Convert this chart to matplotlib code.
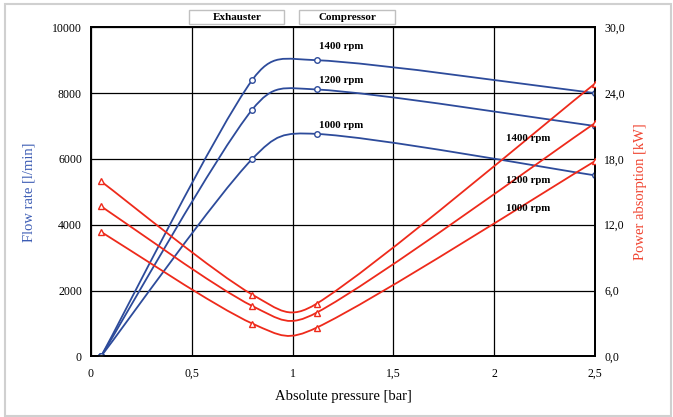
import numpy as np
import matplotlib
matplotlib.use('Agg')
import matplotlib.pyplot as plt
from matplotlib.path import Path
from matplotlib.patches import PathPatch, Rectangle

plt.rcParams['font.family'] = ['Liberation Serif', 'DejaVu Serif']

# data
pressure = [0.05, 0.8, 1.12, 2.5]
flow_1400 = [0, 8400, 9000, 8000]
flow_1200 = [0, 7500, 8110, 7000]
flow_1000 = [0, 6000, 6760, 5500]
power_1400 = [15.95, 5.63, 4.81, 24.87]
power_1200 = [13.68, 4.59, 3.99, 21.27]
power_1000 = [11.35, 2.99, 2.62, 17.8]
rpm_labels = ['1400 rpm', '1200 rpm', '1000 rpm']

x_ticks = [0, 0.5, 1, 1.5, 2, 2.5]
x_ticklabels = ['0', '0,5', '1', '1,5', '2', '2,5']
flow_ticks = [0, 2000, 4000, 6000, 8000, 10000]
power_ticks = [0, 6, 12, 18, 24, 30]

blue = '#2d4b9b'
red = '#ee2a1b'


def smooth_path(ax, xs, ys):
    # excel style smoothed line, computed in display space
    pts = ax.transData.transform(np.column_stack([xs, ys]))
    n = len(pts)
    verts = [pts[0]]
    codes = [Path.MOVETO]
    for i in range(n - 1):
        p0 = pts[max(i - 1, 0)]
        p1 = pts[i]
        p2 = pts[i + 1]
        p3 = pts[min(i + 2, n - 1)]
        d12 = np.hypot(*(p2 - p1))
        d02 = np.hypot(*(p2 - p0))
        d13 = np.hypot(*(p3 - p1))
        f0 = 1 / 6 if d02 / 6 < d12 / 2 else d12 / 2 / d02
        f3 = 1 / 6 if d13 / 6 < d12 / 2 else d12 / 2 / d13
        a = p1 + (p2 - p0) * f0
        b = p2 - (p3 - p1) * f3
        verts += [a, b, p2]
        codes += [Path.CURVE4] * 3
    verts = ax.transData.inverted().transform(np.array(verts))
    return Path(verts, codes)


fig = plt.figure(figsize=(6.73, 4.17), dpi=100)
fig.subplots_adjust(left=0.1352, right=0.8841, top=0.9345, bottom=0.1455)
ax = fig.add_subplot(111)
ax2 = ax.twinx()

ax.set_xlim(0, 2.5)
ax.set_ylim(0, 10000)
ax2.set_ylim(0, 30)

ax.set_xticks(x_ticks)
ax.set_xticklabels(x_ticklabels)
ax.set_yticks(flow_ticks)
ax.set_yticklabels([str(v) for v in flow_ticks])
ax2.set_yticks(power_ticks)
ax2.set_yticklabels([('%.1f' % v).replace('.', ',') for v in power_ticks])

ax.grid(True, color='black', lw=0.9)
ax.set_axisbelow(True)
ax.tick_params(axis='both', length=0, labelsize=8.5, pad=6.5)
ax.tick_params(axis='x', pad=8.5)
ax2.tick_params(axis='y', length=0, labelsize=8.5, pad=6.5)
for a in (ax, ax2):
    for s in a.spines.values():
        s.set_color('black')
        s.set_linewidth(1.3)

ax.set_xlabel('Absolute pressure [bar]', fontsize=10.5, labelpad=7)
ax.set_ylabel('Flow rate [l/min]', fontsize=10.5, color='#3c5cb4', labelpad=12)
ax2.set_ylabel('Power absorption [kW]', fontsize=10.5, color='#f0432f', labelpad=6.5)

for ys in (flow_1400, flow_1200, flow_1000):
    ax.add_patch(PathPatch(smooth_path(ax, pressure, ys), fill=False,
                           edgecolor=blue, lw=1.3, zorder=3))
    ax.plot(pressure, ys, 'o', ms=4, mfc='white', mec=blue, mew=1.0, zorder=4)

for ys in (power_1400, power_1200, power_1000):
    ax2.add_patch(PathPatch(smooth_path(ax2, pressure, ys), fill=False,
                            edgecolor=red, lw=1.3, zorder=3))
    ax2.plot(pressure, ys, '^', ms=5, mfc='white', mec=red, mew=1.0, zorder=4)

# rpm labels
for lab, yy in zip(rpm_labels, [9430, 8370, 7030]):
    ax.text(1.13, yy, lab, fontsize=7.8, fontweight='bold', va='center', ha='left')
for lab, yy in zip(rpm_labels, [19.9, 16.05, 13.5]):
    ax2.text(2.057, yy, lab, fontsize=7.8, fontweight='bold', va='center', ha='left', zorder=5)

# header boxes
W, H = 673.0, 417.0
for name, x0, x1 in [('Exhauster', 189.3, 284.3), ('Compressor', 299.3, 395.0)]:
    fig.patches.append(Rectangle((x0 / W, 1 - 24.3 / H), (x1 - x0) / W, 14 / H,
                                 transform=fig.transFigure, fill=False,
                                 edgecolor='#c0c0c0', lw=1.0))
    fig.text((x0 + x1) / 2 / W, 1 - 17.3 / H, name, fontsize=8, fontweight='bold',
             ha='center', va='center')

# outer frame
fig.patches.append(Rectangle((5 / W, 1 - 415.5 / H), 666 / W, 411.5 / H,
                             transform=fig.transFigure, fill=False,
                             edgecolor='#d0d0d0', lw=1.5))

fig.savefig('out.png', dpi=100)
